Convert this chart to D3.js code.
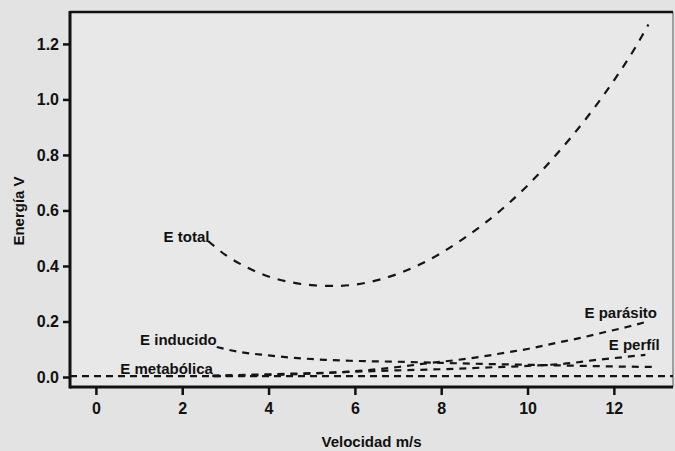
<!DOCTYPE html>
<html>
<head>
<meta charset="utf-8">
<script src="https://cdn.jsdelivr.net/npm/d3@7"></script>
<style>
  body { margin: 0; background: #e3e3e3; }
  text { font-family: "Liberation Sans", Arial, sans-serif; font-weight: bold; }
</style>
</head>
<body>
<div id="chart"></div>
<script>
// values
var xTicks = [0, 2, 4, 6, 8, 10, 12];
var yTicks = [0.0, 0.2, 0.4, 0.6, 0.8, 1.0, 1.2];

var totalV = [2.6, 3, 3.5, 4, 4.5, 5, 5.5, 6, 6.5, 7, 7.5, 8, 8.5, 9, 9.5, 10, 10.5, 11, 11.5, 12, 12.5, 12.8];
var totalE = [0.49, 0.44, 0.395, 0.362, 0.342, 0.331, 0.328, 0.333, 0.348, 0.372, 0.405, 0.447, 0.497, 0.553, 0.617, 0.69, 0.772, 0.862, 0.96, 1.068, 1.188, 1.27];

var inducedV = [2.8, 3.3, 4, 4.6, 5.3, 6, 7, 8, 9, 10, 11, 12, 13];
var inducedE = [0.108, 0.091, 0.078, 0.069, 0.062, 0.058, 0.055, 0.051, 0.047, 0.044, 0.041, 0.038, 0.036];

var parasiteV = [2.7, 4, 5, 6, 7, 7.7, 8.35, 9, 9.5, 10, 10.67, 11.2, 11.8, 12.3, 12.73];
var parasiteE = [0.003, 0.007, 0.012, 0.021, 0.036, 0.05, 0.061, 0.075, 0.088, 0.101, 0.123, 0.14, 0.162, 0.18, 0.198];

var profileV = [2.7, 4, 5, 6, 7, 8, 9, 10, 10.4, 11, 11.5, 12, 12.73];
var profileE = [0.005, 0.01, 0.014, 0.019, 0.024, 0.028, 0.034, 0.04, 0.043, 0.05, 0.06, 0.068, 0.08];

var metabV = [-0.6, 13.37];
var metabE = [0.003, 0.003];

var labels = ["E total", "E inducido", "E metabólica", "E parásito", "E perfíl"];
var labelV = [2.63, 2.8, 2.71, 13.0, 13.06];
var labelE = [0.486, 0.115, 0.011, 0.213, 0.097];

var svgWidth = 675;
var svgHeight = 451;

var svg = d3.select("#chart")
  .append("svg")
    .attr("width", svgWidth)
    .attr("height", svgHeight);

var x = d3.scaleLinear().domain([-0.6, 13.37]).range([70, 673]);
var y = d3.scaleLinear().domain([-0.036, 1.315]).range([387, 12]);

// plot area
svg.append("rect")
  .attr("x", x.range()[0]).attr("y", y.range()[1])
  .attr("width", x.range()[1] - x.range()[0])
  .attr("height", y.range()[0] - y.range()[1])
  .attr("fill", "#e8e8e8");

// axes
var bottomAxis = d3.axisBottom(x).tickValues(xTicks).tickSize(8).tickPadding(8).tickFormat(d3.format("d"));
var leftAxis = d3.axisLeft(y).tickValues(yTicks).tickSize(7).tickPadding(4).tickFormat(d3.format(".1f"));

var gx = svg.append("g")
  .attr("transform", `translate(0, ${y.range()[0]})`)
  .call(bottomAxis);
var gy = svg.append("g")
  .attr("transform", `translate(${x.range()[0]}, 0)`)
  .call(leftAxis);

[gx, gy].forEach(function(g) {
  g.select(".domain").remove();
  g.selectAll(".tick line").attr("stroke", "#111").attr("stroke-width", 2.5);
  g.selectAll(".tick text").attr("fill", "#111").attr("font-size", "16px");
});

// frame
svg.append("line")
  .attr("x1", x.range()[1]).attr("x2", x.range()[1])
  .attr("y1", y.range()[1]).attr("y2", y.range()[0])
  .attr("stroke", "#888").attr("stroke-width", 1.5);
svg.append("line")
  .attr("x1", x.range()[0]).attr("x2", x.range()[1])
  .attr("y1", y.range()[1]).attr("y2", y.range()[1])
  .attr("stroke", "#111").attr("stroke-width", 2.5);
svg.append("line")
  .attr("x1", x.range()[0]).attr("x2", x.range()[1])
  .attr("y1", y.range()[0]).attr("y2", y.range()[0])
  .attr("stroke", "#111").attr("stroke-width", 3);
svg.append("line")
  .attr("x1", x.range()[0]).attr("x2", x.range()[0])
  .attr("y1", y.range()[1] - 1).attr("y2", y.range()[0] + 1.5)
  .attr("stroke", "#111").attr("stroke-width", 3);

// curves
var line = d3.line()
  .x(d => x(d[0]))
  .y(d => y(d[1]))
  .curve(d3.curveMonotoneX);

var series = [
  {v: totalV, e: totalE, dash: "8,8"},
  {v: inducedV, e: inducedE, dash: "7,6"},
  {v: parasiteV, e: parasiteE, dash: "7,6"},
  {v: profileV, e: profileE, dash: "7,6"},
  {v: metabV, e: metabE, dash: "7,5"}
];

series.forEach(function(s) {
  svg.append("path")
    .datum(d3.zip(s.v, s.e))
    .attr("d", line)
    .attr("fill", "none")
    .attr("stroke", "#151515")
    .attr("stroke-width", 2.2)
    .attr("stroke-dasharray", s.dash);
});

// curve labels
svg.selectAll(null)
  .data(labels)
  .enter()
  .append("text")
    .attr("x", (d, i) => x(labelV[i]))
    .attr("y", (d, i) => y(labelE[i]))
    .attr("text-anchor", "end")
    .attr("font-size", "15px")
    .attr("fill", "#111")
    .text(d => d);

// axis titles
svg.append("text")
  .attr("x", (x.range()[0] + x.range()[1]) / 2)
  .attr("y", 447)
  .attr("text-anchor", "middle")
  .attr("font-size", "15px")
  .attr("fill", "#111")
  .text("Velocidad m/s");

svg.append("text")
  .attr("transform", "rotate(-90)")
  .attr("x", -211)
  .attr("y", 24)
  .attr("text-anchor", "middle")
  .attr("font-size", "15px")
  .attr("fill", "#111")
  .text("Energía V");
</script>
</body>
</html>
